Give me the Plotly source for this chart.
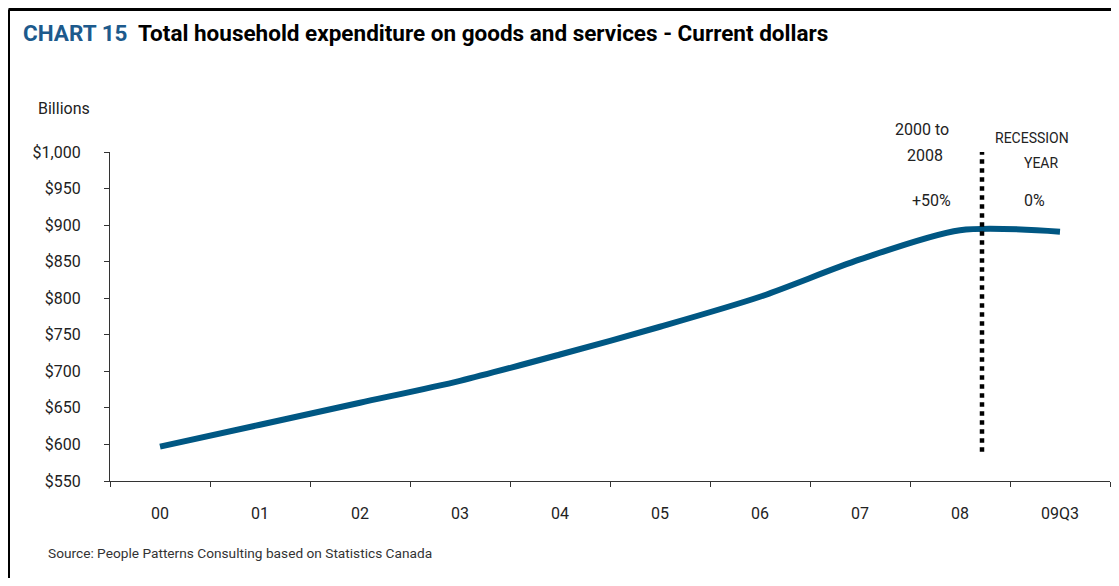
import plotly.graph_objects as go

# ---- data ----
categories = ["00", "01", "02", "03", "04", "05", "06", "07", "08", "09Q3"]
expenditure = [597, 627, 657, 687, 723, 761, 802, 853, 893, 891]
y_ticks = [550, 600, 650, 700, 750, 800, 850, 900, 950, 1000]
y_tick_labels = ["$550", "$600", "$650", "$700", "$750", "$800", "$850", "$900", "$950", "$1,000"]

FONT = "Roboto, Liberation Sans, sans-serif"
LINE_COLOR = "#005783"

OFF = 8  # page body margin
W, H = 1111, 570
L, R, T, B = 102, 9, 144, 97
PW, PH = W - L - R, H - T - B


def px(x):
    # screen x -> paper
    return (x - OFF - L) / PW


def py(y):
    # screen y -> paper
    return (H - B - (y - OFF)) / PH


fig = go.Figure()
fig.add_trace(go.Scatter(
    x=categories, y=expenditure, mode="lines",
    line=dict(color=LINE_COLOR, width=6, shape="spline", smoothing=0.8),
    hoverinfo="x+y", showlegend=False,
))

# recession divider (between 08 and 09Q3)
divider_x = 8.22
fig.add_shape(type="line", xref="x", yref="y", x0=divider_x, x1=divider_x,
              y0=590, y1=1007, line=dict(color="black", width=4.5, dash="dot"))

# frame (top and left edges)
fig.add_shape(type="line", xref="paper", yref="paper", x0=px(8.5), x1=px(1125),
              y0=py(9.5), y1=py(9.5), line=dict(color="black", width=3))
fig.add_shape(type="line", xref="paper", yref="paper", x0=px(8.5), x1=px(8.5),
              y0=py(9.5), y1=py(600), line=dict(color="black", width=3))

annos = [
    dict(x=px(21), y=py(33), xanchor="left", yanchor="middle",
         text="<b><span style='color:#1d5a8c'>CHART 15</span>  Total household expenditure on goods and services - Current dollars</b>",
         font=dict(size=22.5, color="black")),
    dict(x=px(36), y=py(108), xanchor="left", yanchor="middle", text="Billions",
         font=dict(size=16, color="#222")),
    dict(x=px(46), y=py(553), xanchor="left", yanchor="middle",
         text="Source: People Patterns Consulting based on Statistics Canada",
         font=dict(size=13.7, color="#333")),
    dict(x=px(922), y=py(129), xanchor="center", yanchor="middle", text="2000 to",
         font=dict(size=16, color="#222")),
    dict(x=px(925), y=py(155), xanchor="center", yanchor="middle", text="2008",
         font=dict(size=16, color="#222")),
    dict(x=px(931), y=py(200), xanchor="center", yanchor="middle", text="+50%",
         font=dict(size=16, color="#222")),
    dict(x=px(1032), y=py(138), xanchor="center", yanchor="middle", text="RECESSION",
         font=dict(size=14, color="#222")),
    dict(x=px(1041), y=py(163), xanchor="center", yanchor="middle", text="YEAR",
         font=dict(size=14, color="#222")),
    dict(x=px(1034), y=py(200), xanchor="center", yanchor="middle", text="0%",
         font=dict(size=16, color="#222")),
]
for a in annos:
    a.update(xref="paper", yref="paper", showarrow=False)

fig.update_layout(
    width=W, height=H,
    margin=dict(l=L, r=R, t=T, b=B, pad=0),
    paper_bgcolor="white", plot_bgcolor="white",
    font=dict(family=FONT, color="#222"),
    showlegend=False,
    annotations=annos,
    xaxis=dict(
        type="category", range=[-0.5, 9.5], tickson="boundaries",
        showline=True, linecolor="#333", linewidth=1.2,
        ticks="outside", ticklen=5, tickcolor="#333", tickwidth=1.2,
        showgrid=False, zeroline=False, tickfont=dict(size=16, color="#222"),
        ticklabelstandoff=18,
    ),
    yaxis=dict(
        range=[550, 1000], tickvals=y_ticks, ticktext=y_tick_labels,
        showline=True, linecolor="#333", linewidth=1.2,
        ticks="outside", ticklen=5, tickcolor="#333", tickwidth=1.2,
        showgrid=False, zeroline=False, tickfont=dict(size=16, color="#222"),
        ticklabelstandoff=20,
    ),
)

fig.write_html("out.html")
